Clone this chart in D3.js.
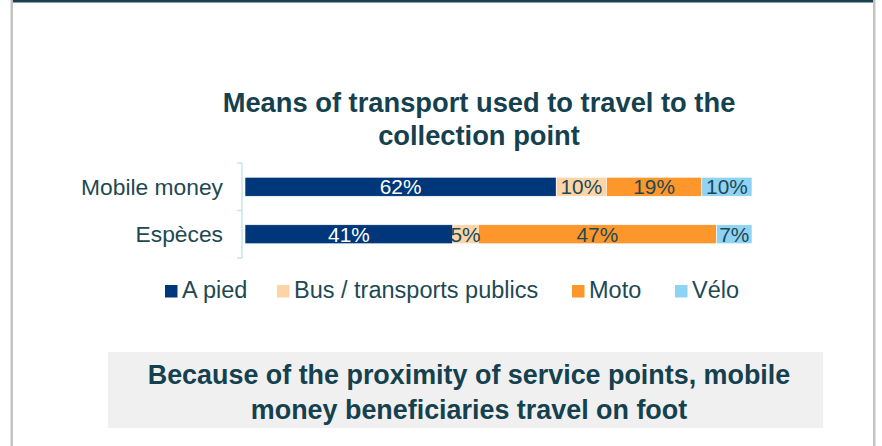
<!DOCTYPE html>
<html>
<head>
<meta charset="utf-8">
<script src="https://cdn.jsdelivr.net/npm/d3@7"></script>
<style>
  html, body { margin: 0; padding: 0; background: #ffffff; }
  svg { display: block; }
</style>
</head>
<body>
<svg id="chart" width="882" height="446"></svg>
<script>
// Survey groups (rows) and transport modes (stack segments)
const categories = ["Mobile money", "Espèces"];
const modes = ["A pied", "Bus / transports publics", "Moto", "Vélo"];

// Share of respondents per mode, in percent, one array per mode
const aPied = [62, 41];
const bus = [10, 5];
const moto = [19, 47];
const velo = [10, 7];

const titleLines = ["Means of transport used to travel to the", "collection point"];
const noteLines = ["Because of the proximity of service points, mobile", "money beneficiaries travel on foot"];

const colors = ["#00377a", "#fdd4a8", "#fd962b", "#8fd3f4"];
const labelColors = ["#ffffff", "#1d4953", "#1d4953", "#1d4953"];
const teal = "#15414f";

const W = 882, H = 446;
const svg = d3.select("#chart");

// Frame: gray side rules and a dark top rule
svg.append("rect").attr("x", 11).attr("y", 0).attr("width", 864).attr("height", 2.5).attr("fill", "#1a4150");
svg.append("rect").attr("x", 10.5).attr("y", 0).attr("width", 2.5).attr("height", H).attr("fill", "#c4c4c4");
svg.append("rect").attr("x", 873).attr("y", 0).attr("width", 2.5).attr("height", H).attr("fill", "#c4c4c4");

// Title
svg.append("g").selectAll("text").data(titleLines).join("text")
  .attr("x", 479)
  .attr("y", (d, i) => 112 + i * 33)
  .attr("text-anchor", "middle")
  .attr("font-family", "'Liberation Sans', Arial, sans-serif")
  .attr("font-weight", "bold")
  .attr("font-size", 27.3)
  .attr("fill", teal)
  .text(d => d);

// Rows of the table fed to the stack
const rows = categories.map((c, i) => ({
  category: c,
  "A pied": aPied[i],
  "Bus / transports publics": bus[i],
  "Moto": moto[i],
  "Vélo": velo[i]
}));

const series = d3.stack().keys(modes).offset(d3.stackOffsetExpand)(rows);

const x = d3.scaleLinear().domain([0, 1]).range([245, 752]);
const y = d3.scaleBand().domain(categories).range([163, 258]).paddingInner(0.6).paddingOuter(0.3);

// Category axis on the left
const yAxis = d3.axisLeft(y).tickSize(0).tickPadding(19);
const axisG = svg.append("g").attr("transform", "translate(242,0)").call(yAxis);
axisG.select(".domain").remove();
axisG.selectAll("text")
  .attr("font-family", "'Liberation Sans', Arial, sans-serif")
  .attr("font-size", 22.8)
  .attr("fill", "#1d4953")
  .attr("dy", "0.34em");

// Axis rule with tick marks at the band boundaries
const axisColor = "#c6e4f1";
svg.append("line").attr("x1", 242).attr("x2", 242).attr("y1", 163).attr("y2", 258)
  .attr("stroke", axisColor).attr("stroke-width", 1.5);
const boundaries = [163, (163 + 258) / 2, 258];
svg.append("g").selectAll("line").data(boundaries).join("line")
  .attr("x1", 237).attr("x2", 242)
  .attr("y1", d => d).attr("y2", d => d)
  .attr("stroke", axisColor).attr("stroke-width", 1.5);

// Stacked bars
const layers = svg.append("g").selectAll("g").data(series).join("g")
  .attr("fill", (d, i) => colors[i]);

layers.selectAll("rect").data(d => d).join("rect")
  .attr("x", d => x(d[0]))
  .attr("y", d => y(d.data.category))
  .attr("width", d => x(d[1]) - x(d[0]))
  .attr("height", y.bandwidth())
  .attr("stroke", "#ffffff")
  .attr("stroke-width", 0.6);

// Value labels centred in each segment
svg.append("g").selectAll("g").data(series).join("g")
  .attr("fill", (d, i) => labelColors[i])
  .selectAll("text").data(d => d.map(p => ({ p, key: d.key }))).join("text")
  .attr("x", d => (x(d.p[0]) + x(d.p[1])) / 2)
  .attr("y", d => y(d.p.data.category) + y.bandwidth() / 2)
  .attr("dy", "0.36em")
  .attr("text-anchor", "middle")
  .attr("font-family", "'Liberation Sans', Arial, sans-serif")
  .attr("font-size", 20.8)
  .text(d => d.p.data[d.key] + "%");

// Legend
const legendX = [165, 277, 572, 675];
const legend = svg.append("g").selectAll("g").data(modes).join("g")
  .attr("transform", (d, i) => `translate(${legendX[i]},0)`);
legend.append("rect")
  .attr("x", 0).attr("y", 285)
  .attr("width", 12.5).attr("height", 12.5)
  .attr("fill", (d, i) => colors[i]);
legend.append("text")
  .attr("x", 17).attr("y", 298)
  .attr("font-family", "'Liberation Sans', Arial, sans-serif")
  .attr("font-size", 23.5)
  .attr("fill", "#1d4953")
  .text(d => d);

// Takeaway box
svg.append("rect").attr("x", 108).attr("y", 352).attr("width", 715).attr("height", 76).attr("fill", "#f0f0f0");
svg.append("g").selectAll("text").data(noteLines).join("text")
  .attr("x", 469)
  .attr("y", (d, i) => 384 + i * 35)
  .attr("text-anchor", "middle")
  .attr("font-family", "'Liberation Sans', Arial, sans-serif")
  .attr("font-weight", "bold")
  .attr("font-size", 26.9)
  .attr("fill", teal)
  .text(d => d);
</script>
</body>
</html>
